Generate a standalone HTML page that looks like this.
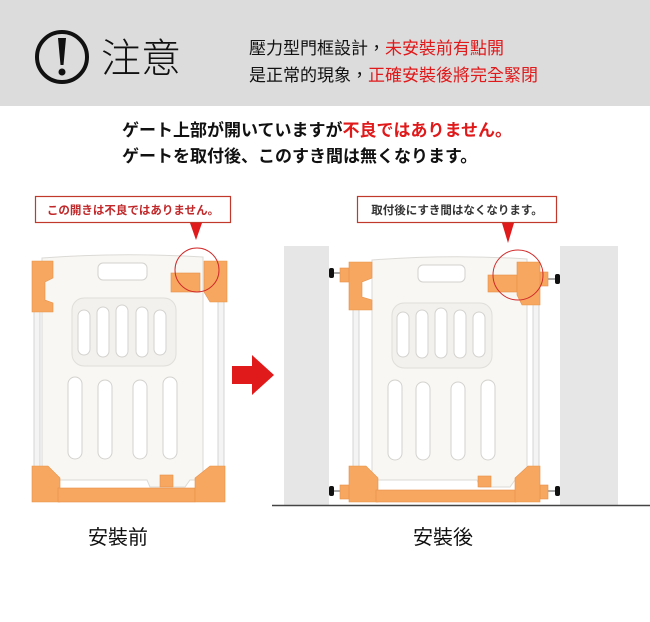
<!DOCTYPE html>
<html><head><meta charset="utf-8"><style>
body{margin:0;width:650px;height:622px;position:relative;background:#fff;overflow:hidden;font-family:"Liberation Sans","Noto Sans CJK JP",sans-serif;}
.a{position:absolute;white-space:nowrap;}
.r{color:#e0191b;}
</style></head><body>
<div class="a" style="left:0;top:0;width:650px;height:106px;background:#dcdcdc;"></div>
<svg class="a" style="left:0;top:0" width="650" height="622">
 <circle cx="62" cy="57" r="25" fill="none" stroke="#111" stroke-width="4"/>
 <path d="M58 38 L66 38 L63.5 65 L60.5 65 Z" fill="#111"/>
 <circle cx="62" cy="72" r="3.5" fill="#111"/>
</svg>
<div class="a" style="left:101px;top:30px;font-size:40px;color:#111;font-family:'Noto Sans CJK TC',sans-serif;font-weight:300;line-height:50px;">注意</div>
<div class="a" style="left:249px;top:33px;font-size:17px;line-height:27px;color:#111;font-family:'Noto Sans CJK TC',sans-serif;">壓力型門框設計，<span class="r">未安裝前有點開</span><br>是正常的現象，<span class="r">正確安裝後將完全緊閉</span></div>
<div class="a" style="left:122px;top:118px;font-size:17px;line-height:26px;color:#111;font-weight:bold;">ゲート上部が開いていますが<span class="r">不良ではありません。</span><br>ゲートを取付後、このすき間は無くなります。</div>

<svg class="a" style="left:0;top:0" width="650" height="622">
 <rect x="284" y="246" width="45" height="259" fill="#e6e6e6"/>
 <rect x="560" y="246" width="58" height="259" fill="#e6e6e6"/>
 <line x1="272" y1="505.5" x2="650" y2="505.5" stroke="#444" stroke-width="1.5"/>
 <path d="M232 366 L252 366 L252 355 L274 375 L252 395 L252 384 L232 384 Z" fill="#e0191b"/>
 <rect x="35.5" y="196.5" width="195" height="26" fill="#fff" stroke="#c0392b" stroke-width="1.2"/>
 <text x="133" y="214" font-size="11.5" font-weight="bold" fill="#c0282a" text-anchor="middle" font-family="Liberation Sans,Noto Sans CJK JP,sans-serif">この開きは不良ではありません。</text>
 <path d="M190 223 L202 223 L196 240 Z" fill="#e0191b"/>
 <rect x="357.5" y="196.5" width="199" height="26" fill="#fff" stroke="#c0392b" stroke-width="1.2"/>
 <text x="457" y="214" font-size="11.5" font-weight="bold" fill="#333" text-anchor="middle" font-family="Liberation Sans,Noto Sans CJK JP,sans-serif">取付後にすき間はなくなります。</text>
 <path d="M502 223 L514 223 L508 243 Z" fill="#e0191b"/>

 <rect x="34" y="305" width="6" height="165" fill="#f4f4f4" stroke="#ccc" stroke-width="0.8"/>
 <rect x="218" y="300" width="6" height="170" fill="#f4f4f4" stroke="#ccc" stroke-width="0.8"/>
 <path d="M42 258 Q120 252 203 257 L203 480 L190 480 L185 487 L150 487 L147 480 L42 480 Z" fill="#f8f7f4" stroke="#dcdad6"/>
 <rect x="98" y="263" width="49" height="17" rx="5" fill="#fff" stroke="#d4d2ce"/>
 <rect x="72" y="298" width="104" height="68" rx="12" fill="#f3f1ed" stroke="#e0ded9"/>
 <g fill="#fff" stroke="#d4d2ce">
  <rect x="78" y="310" width="12" height="45" rx="6"/><rect x="97" y="307" width="12" height="50" rx="6"/><rect x="116" y="305" width="12" height="52" rx="6"/><rect x="136" y="307" width="12" height="50" rx="6"/><rect x="154" y="310" width="12" height="45" rx="6"/>
  <rect x="68" y="377" width="14" height="82" rx="7"/><rect x="98" y="380" width="14" height="79" rx="7"/><rect x="133" y="380" width="14" height="79" rx="7"/><rect x="163" y="377" width="14" height="82" rx="7"/>
 </g>
 <g fill="#f7a760" stroke="#e8924a" stroke-width="0.6">
  <path d="M32 261 L53 261 L53 278 L45 282 L45 300 L53 303 L53 312 L32 312 Z"/>
  <rect x="171" y="273" width="29" height="19"/>
  <path d="M204 261 L227 261 L227 302 L210 302 L204 292 Z"/>
  <path d="M32 466 L48 466 L60 478 L60 502 L32 502 Z"/>
  <rect x="58" y="488" width="137" height="14"/>
  <path d="M210 466 L225 466 L225 502 L195 502 L195 478 Z"/>
  <rect x="160" y="475" width="13" height="12"/>
 </g>
 <circle cx="197" cy="270" r="22" fill="none" stroke="#d02a2a" stroke-width="1"/>

 <g fill="#111">
  <rect x="329" y="268" width="5" height="10" rx="2"/><rect x="329" y="486" width="5" height="10" rx="2"/>
  <rect x="555" y="274" width="5" height="10" rx="2"/><rect x="555" y="486" width="5" height="10" rx="2"/>
 </g>
 <rect x="334" y="272" width="10" height="2" fill="#aaa"/><rect x="334" y="490" width="10" height="2" fill="#aaa"/>
 <rect x="545" y="278" width="10" height="2" fill="#aaa"/><rect x="545" y="490" width="10" height="2" fill="#aaa"/>
 <rect x="353" y="305" width="6" height="165" fill="#f4f4f4" stroke="#ccc" stroke-width="0.8"/>
 <rect x="533" y="300" width="6" height="170" fill="#f4f4f4" stroke="#ccc" stroke-width="0.8"/>
 <path d="M372 260 Q450 254 527 259 L527 480 L515 480 L510 487 L480 487 L477 480 L372 480 Z" fill="#f8f7f4" stroke="#dcdad6"/>
 <rect x="418" y="265" width="47" height="17" rx="5" fill="#fff" stroke="#d4d2ce"/>
 <rect x="392" y="303" width="100" height="65" rx="12" fill="#f3f1ed" stroke="#e0ded9"/>
 <g fill="#fff" stroke="#d4d2ce">
  <rect x="397" y="312" width="12" height="45" rx="6"/><rect x="416" y="310" width="12" height="48" rx="6"/><rect x="435" y="308" width="12" height="50" rx="6"/><rect x="454" y="310" width="12" height="48" rx="6"/><rect x="473" y="312" width="12" height="45" rx="6"/>
  <rect x="388" y="380" width="14" height="80" rx="7"/><rect x="416" y="382" width="14" height="78" rx="7"/><rect x="451" y="382" width="14" height="78" rx="7"/><rect x="481" y="380" width="14" height="80" rx="7"/>
 </g>
 <g fill="#f7a760" stroke="#e8924a" stroke-width="0.6">
  <rect x="340" y="268" width="10" height="14"/><rect x="340" y="485" width="10" height="14"/>
  <rect x="540" y="272" width="8" height="14"/><rect x="540" y="485" width="8" height="14"/>
  <path d="M349 262 L372 262 L372 278 L362 282 L362 297 L372 300 L372 310 L349 310 Z"/>
  <rect x="488" y="275" width="29" height="17"/>
  <path d="M517 262 L540 262 L540 305 L522 305 L517 295 Z"/>
  <path d="M349 466 L366 466 L378 478 L378 502 L349 502 Z"/>
  <rect x="376" y="490" width="140" height="12"/>
  <path d="M528 466 L540 466 L540 502 L515 502 L515 478 Z"/>
  <rect x="478" y="476" width="13" height="11"/>
 </g>
 <circle cx="518" cy="275" r="25" fill="none" stroke="#d02a2a" stroke-width="1"/>
</svg>
<div class="a" style="left:88px;top:524px;font-size:20px;color:#111;line-height:28px;">安裝前</div>
<div class="a" style="left:413px;top:524px;font-size:20px;color:#111;line-height:28px;">安裝後</div>
</body></html>
